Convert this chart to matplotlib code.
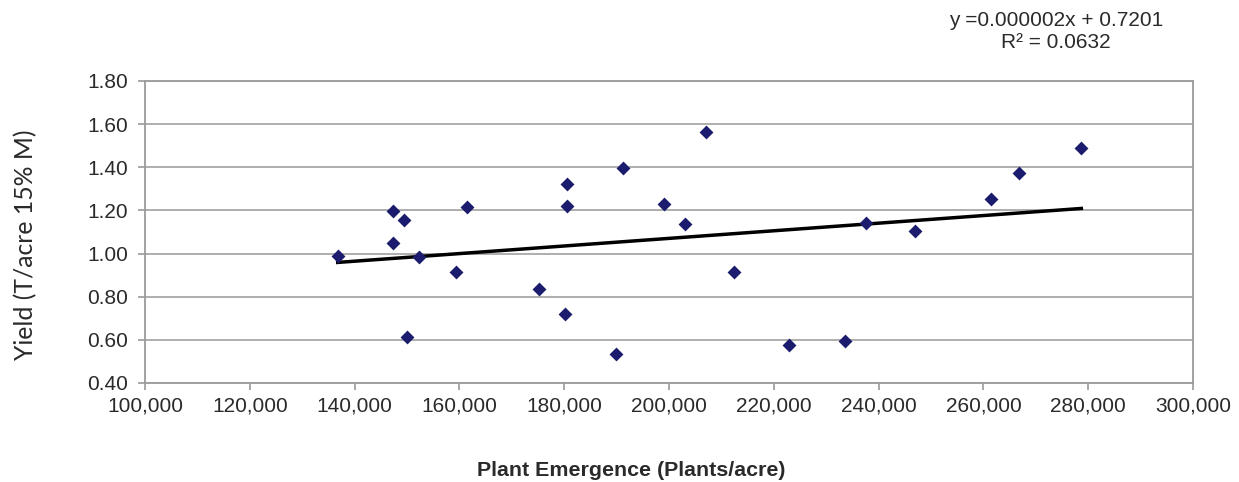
import matplotlib
matplotlib.use("Agg")
import matplotlib.pyplot as plt
from matplotlib.ticker import FuncFormatter
import numpy as np

plt.rcParams['font.family'] = ['Liberation Sans', 'DejaVu Sans']

emergence = [136775, 147390, 147390, 149490, 149940, 152290, 159290, 161390,
             175250, 180590, 180590, 180150, 189830, 191160, 199050, 203060,
             207060, 212350, 222960, 233590, 237530, 246890, 261390, 266740,
             278690]
yield_t = [0.988, 1.198, 1.047, 1.155, 0.611, 0.985, 0.914, 1.215,
           0.836, 1.324, 1.220, 0.722, 0.536, 1.396, 1.232, 1.138,
           1.565, 0.914, 0.578, 0.597, 1.143, 1.105, 1.254, 1.372,
           1.488]
x_ticks = [100000, 120000, 140000, 160000, 180000, 200000, 220000, 240000, 260000, 280000, 300000]
y_ticks = [0.40, 0.60, 0.80, 1.00, 1.20, 1.40, 1.60, 1.80]
eq_text = "y =0.000002x + 0.7201"
r2_text = "R\u00b2 = 0.0632"

W, H = 1239, 482
fig = plt.figure(figsize=(W / 100, H / 100), dpi=100)
ax = fig.add_axes([145 / W, 1 - 383 / H, (1193 - 145) / W, (383 - 81) / H])

x = np.array(emergence, dtype=float)
y = np.array(yield_t)
slope, intercept = np.polyfit(x, y, 1)
xs = np.array([x.min(), x.max()])
ax.plot(xs, slope * xs + intercept, color='black', lw=2.5, zorder=3)
ax.scatter(x, y, marker='D', s=50, color='#1c1c6e', zorder=4, linewidths=0)

ax.set_xlim(100000, 300000)
ax.set_ylim(0.40, 1.80)
ax.set_xticks(x_ticks)
ax.set_yticks(y_ticks)
ax.xaxis.set_major_formatter(FuncFormatter(lambda v, p: f"{int(v):,}"))
ax.yaxis.set_major_formatter(FuncFormatter(lambda v, p: f"{v:.2f}"))
ax.grid(axis='y', color='#a8a8a8', lw=1.3)
ax.set_axisbelow(True)
for s in ax.spines.values():
    s.set_color('#9a9a9a')
    s.set_linewidth(1.3)
ax.tick_params(axis='both', colors='#9a9a9a', length=5, width=1.2, labelsize=15,
               labelcolor='#2a2a2a')
ax.tick_params(axis='x', pad=5)
ax.tick_params(axis='y', pad=7)

fig.text(26 / W, 1 - 245 / H, "Yield (T/acre 15% M)", rotation=90, ha='center', va='center',
         fontsize=17.8, color='#2a2a2a', family=['Lato', 'DejaVu Sans'])
fig.text(631 / W, 1 - 470 / H, "Plant Emergence (Plants/acre)", ha='center', va='center',
         fontsize=15.4, fontweight='bold', color='#2a2a2a')

fig.text(1056 / W, 1 - 20 / H, eq_text, ha='center', va='center',
         fontsize=15, color='#2a2a2a')
fig.text(1056 / W, 1 - 43 / H, r2_text, ha='center', va='center',
         fontsize=15, color='#2a2a2a')

fig.savefig("out.png", dpi=100, facecolor='white')
